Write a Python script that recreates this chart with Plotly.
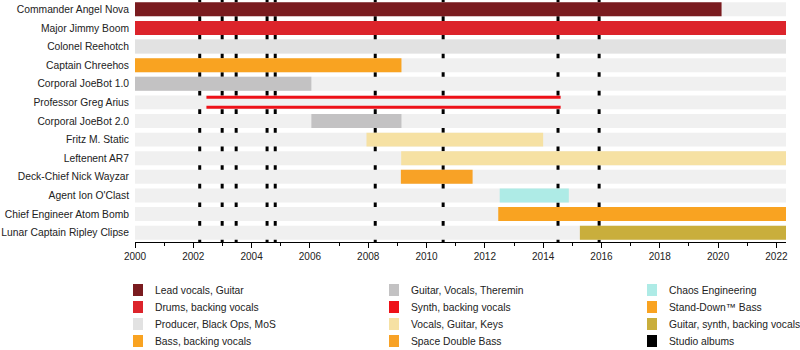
import plotly.graph_objects as go

# ---- data ----
members = ["Commander Angel Nova", "Major Jimmy Boom", "Colonel Reehotch", "Captain Chreehos",
           "Corporal JoeBot 1.0", "Professor Greg Arius", "Corporal JoeBot 2.0", "Fritz M. Static",
           "Leftenent AR7", "Deck-Chief Nick Wayzar", "Agent Ion O'Clast",
           "Chief Engineer Atom Bomb", "Lunar Captain Ripley Clipse"]
starts = [2000, 2000, 2000, 2000, 2000, 2002.45, 2006.05, 2007.94, 2009.13, 2009.12, 2012.51, 2012.46, 2015.26]
ends = [2020.12, 2022.33, 2022.33, 2009.14, 2006.05, 2014.6, 2009.14, 2014.0, 2022.33, 2011.58, 2014.88, 2022.33, 2022.33]
roles = ["Lead vocals, Guitar", "Drums, backing vocals", "Producer, Black Ops, MoS", "Bass, backing vocals",
         "Guitar, Vocals, Theremin", "Synth, backing vocals", "Guitar, Vocals, Theremin", "Vocals, Guitar, Keys",
         "Vocals, Guitar, Keys", "Space Double Bass", "Chaos Engineering", "Stand-Down™ Bass",
         "Guitar, synth, backing vocals"]
legend_labels = ["Lead vocals, Guitar", "Drums, backing vocals", "Producer, Black Ops, MoS", "Bass, backing vocals",
                 "Guitar, Vocals, Theremin", "Synth, backing vocals", "Vocals, Guitar, Keys", "Space Double Bass",
                 "Chaos Engineering", "Stand-Down™ Bass", "Guitar, synth, backing vocals", "Studio albums"]
album_years = [2002.22, 2002.99, 2003.47, 2004.53, 2004.81, 2008.24, 2010.57, 2014.51, 2015.92]
timeline_start = 2000
timeline_end = 2022.33

# ---- styles ----
role_colors = {
    "Lead vocals, Guitar": "#7a1b1f",
    "Drums, backing vocals": "#dc242b",
    "Producer, Black Ops, MoS": "#e2e2e2",
    "Bass, backing vocals": "#f9a321",
    "Guitar, Vocals, Theremin": "#c3c2c3",
    "Synth, backing vocals": "#ee1118",
    "Vocals, Guitar, Keys": "#f6e1a3",
    "Space Double Bass": "#f8a226",
    "Chaos Engineering": "#aeebe6",
    "Stand-Down™ Bass": "#f9a321",
    "Guitar, synth, backing vocals": "#c9ae3c",
    "Studio albums": "#000000",
}
FONT = "Liberation Sans, Arial, sans-serif"
L, R, T, B = 135, 14, 0, 108
W, H = 800, 350
PW, PH = W - L - R, H - T - B

rows = list(range(len(members)))
fig = go.Figure()

# background bands
fig.add_trace(go.Bar(
    y=rows, x=[timeline_end - timeline_start] * len(members), base=[timeline_start] * len(members),
    orientation="h", width=0.75, marker=dict(color="#f0f0f0", line=dict(width=0)),
    showlegend=False, hoverinfo="skip"))

line_rows = []
for i, (m, s, e, r) in enumerate(zip(members, starts, ends, roles)):
    if r == "Synth, backing vocals":
        line_rows.append(i)
        continue
    fig.add_trace(go.Bar(
        y=[i], x=[e - s], base=[s], orientation="h", width=0.75,
        marker=dict(color=role_colors[r], line=dict(width=0)),
        name=r, showlegend=False, hovertemplate=m + "<extra></extra>"))

for i in line_rows:
    for off in (-0.28, 0.26):
        fig.add_trace(go.Scatter(
            x=[starts[i], ends[i]], y=[i + off, i + off], mode="lines",
            line=dict(color=role_colors[roles[i]], width=3), showlegend=False, hoverinfo="skip"))

shapes = []
for yr in album_years:
    shapes.append(dict(type="line", xref="x", yref="paper", x0=yr, x1=yr, y0=0, y1=1,
                       line=dict(color="black", width=3), layer="below"))

# manual legend
col_x = [133, 389, 647]
row_y = [290, 307, 324, 341]
annotations = []
for k, lab in enumerate(legend_labels):
    cx = col_x[k // 4]
    ry = row_y[k % 4]
    shapes.append(dict(type="rect", xref="paper", yref="paper",
                       x0=(cx - L) / PW, x1=(cx + 10 - L) / PW,
                       y0=(H - B - (ry + 6)) / PH, y1=(H - B - (ry - 6)) / PH,
                       fillcolor=role_colors[lab], line=dict(width=0), layer="above"))
    annotations.append(dict(xref="paper", yref="paper", x=(cx + 20 - L) / PW, y=(H - B - ry) / PH,
                            text=lab, showarrow=False, xanchor="left", yanchor="middle",
                            font=dict(family=FONT, size=10.3, color="#222")))

fig.update_layout(
    width=W, height=H, margin=dict(l=L, r=R, t=T, b=B),
    barmode="overlay", plot_bgcolor="white", paper_bgcolor="white",
    shapes=shapes, annotations=annotations, showlegend=False,
    font=dict(family=FONT, size=10.3, color="#222"),
    xaxis=dict(range=[timeline_start, timeline_end], showgrid=False, zeroline=False,
               showline=True, linecolor="black", linewidth=1,
               ticks="outside", ticklen=5, tickcolor="black", tick0=2000, dtick=2,
               minor=dict(ticks="outside", ticklen=3, tickcolor="black", dtick=1, tick0=2000, showgrid=False),
               tickfont=dict(family=FONT, size=10, color="#222")),
    yaxis=dict(range=[len(members) - 0.5, -0.5], tickvals=rows, ticktext=members,
               showgrid=False, zeroline=False, showline=False, ticks="",
               ticklabelstandoff=5, tickfont=dict(family=FONT, size=10.3, color="#222")),
)

fig.write_html("out.html")
